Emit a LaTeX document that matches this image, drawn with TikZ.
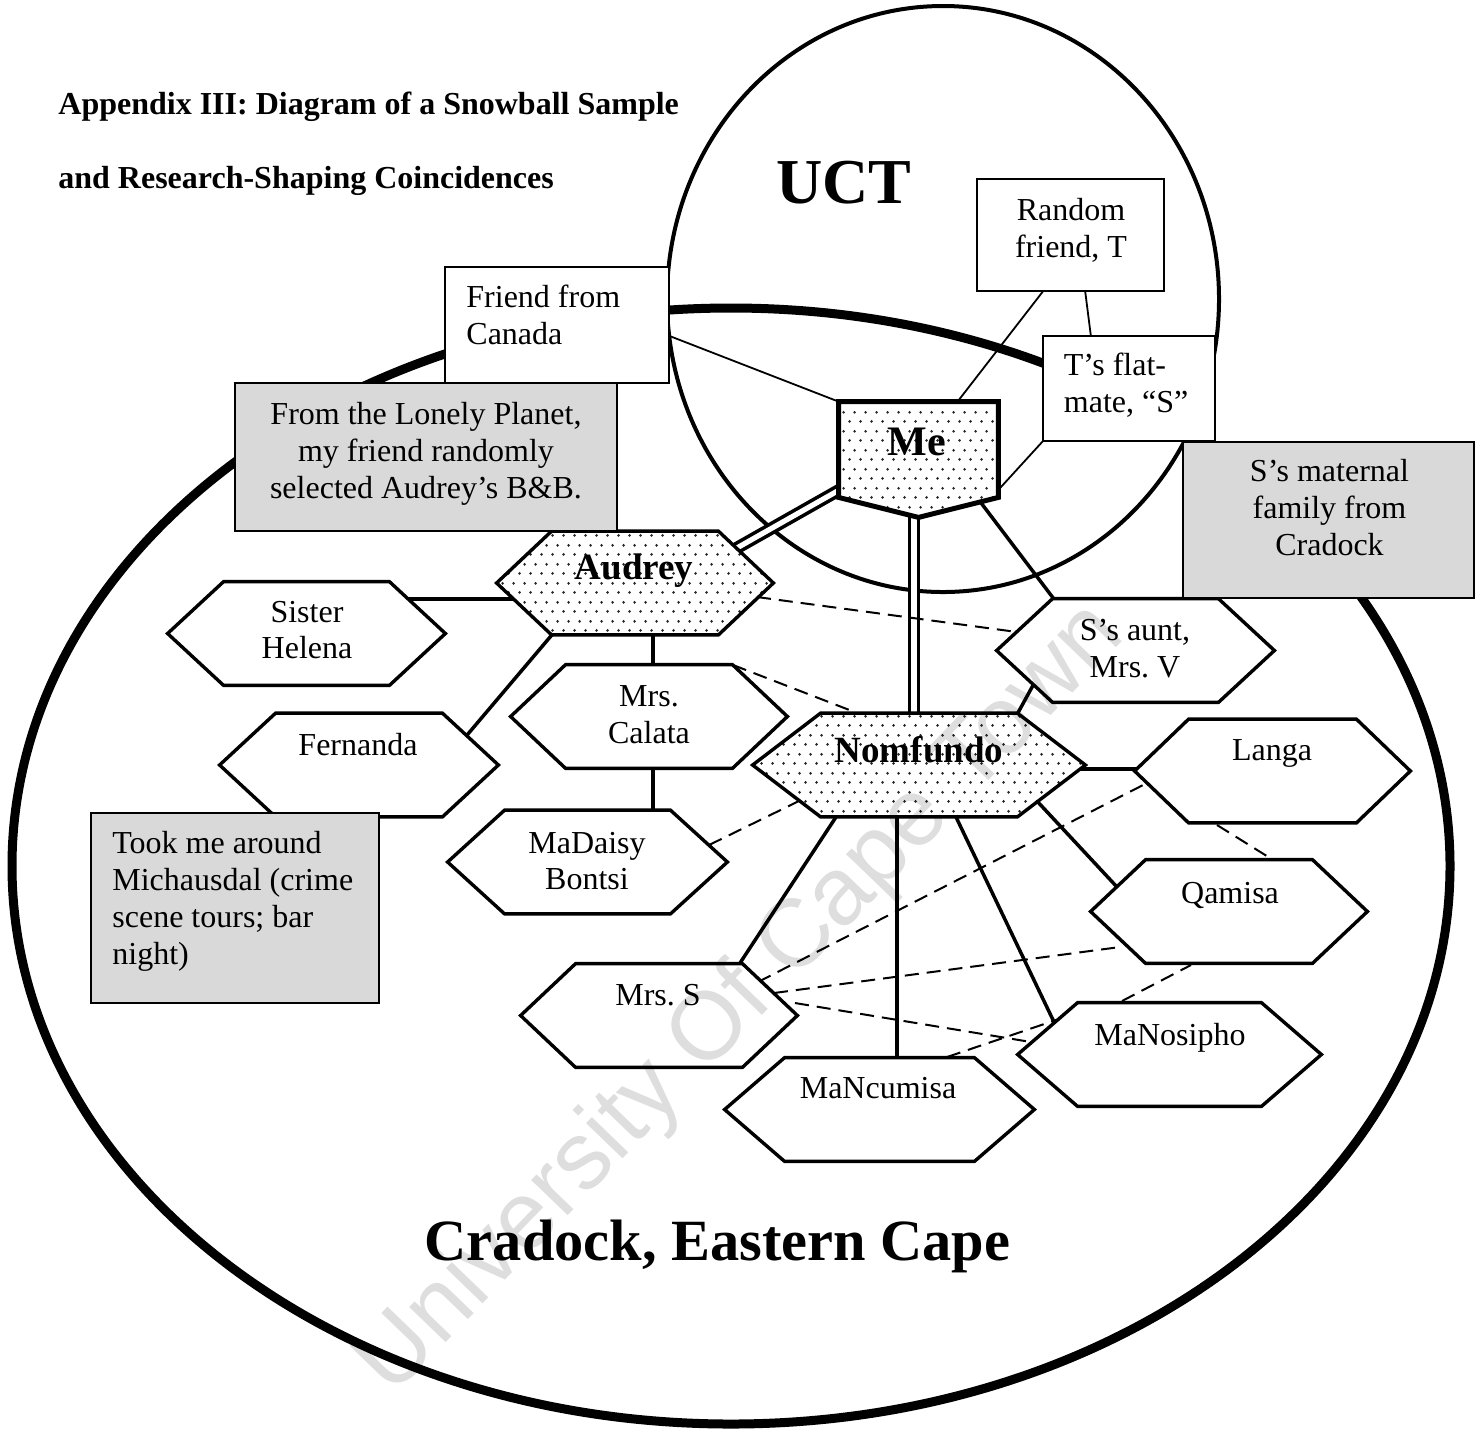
\documentclass[tikz,border=0pt]{standalone}
\usepackage{fontspec}
\setmainfont{Liberation Serif}
\newfontfamily\wmfont{Liberation Sans}
\usetikzlibrary{patterns.meta,calc}
\pgfdeclarelayer{bg}
\pgfdeclarelayer{edges}
\pgfdeclarelayer{shapes}
\pgfsetlayers{bg,edges,shapes,main}
\definecolor{boxgray}{gray}{0.85}
\frenchspacing

\tikzdeclarepattern{
  name=mydots,
  type=uncolored,
  bounding box={(0pt,0pt) and (5.5pt,9.5pt)},
  tile size={(5.5pt,9.5pt)},
  code={
    \pgfpathcircle{\pgfqpoint{1.375pt}{2.375pt}}{0.78pt}
    \pgfpathcircle{\pgfqpoint{4.125pt}{7.125pt}}{0.78pt}
    \pgfusepath{fill}
  }
}

% name, x, y, width, slant, extra style
\newcommand\HexNode[6]{%
  \node[hexarea,minimum width=#4] (#1) at (#2,#3) {};
  \begin{pgfonlayer}{shapes}
    \draw[hexline,#6] (#1.west) -- ([xshift=#5]#1.north west) -- ([xshift=-#5]#1.north east)
      -- (#1.east) -- ([xshift=-#5]#1.south east) -- ([xshift=#5]#1.south west) -- cycle;
  \end{pgfonlayer}}

\begin{document}
\begin{tikzpicture}[x=0.5pt,y=-0.5pt,
  hexarea/.style={rectangle,inner sep=0pt,minimum height=51.5pt},
  hexline/.style={draw=black,line width=1.7pt,fill=white},
  dotfill/.style={preaction={fill=white},pattern=mydots,pattern color=black!85},
  boxw/.style={rectangle,draw=black,line width=1pt,fill=white,inner sep=0pt},
  boxg/.style={boxw,fill=boxgray},
  txt/.style={font=\fontsize{16pt}{18.4pt}\selectfont,align=center,inner sep=0pt},
  txtl/.style={txt,align=left,anchor=west},
  btxt/.style={inner sep=0pt,anchor=base,font=\bfseries\fontsize{#1}{#1}\selectfont},
  conn/.style={line width=1.75pt},
  thinconn/.style={line width=0.9pt},
  dconn/.style={line width=1pt,dash pattern=on 7pt off 4pt},
  dbl/.style={double,line width=1.8pt,double distance=2.6pt}
]
\useasboundingbox (0,0) rectangle (1475,1432);

% regions
\begin{pgfonlayer}{bg}
  \fill[white] (0,0) rectangle (1475,1432);
  \draw[line width=4.5pt] (731,866) ellipse [x radius=719, y radius=558];
  \draw[line width=2pt] (943,299) ellipse [x radius=276, y radius=293];
\end{pgfonlayer}

% hexagons
\HexNode{aud}{635}{583}{138pt}{27.5pt}{dotfill}
\HexNode{sis}{306.5}{633.5}{138.5pt}{28pt}{}
\HexNode{fer}{359}{765}{139pt}{28pt}{}
\HexNode{cal}{649}{716.5}{138pt}{27.5pt}{}
\HexNode{dai}{587.5}{862}{139.5pt}{28.5pt}{}
\HexNode{nom}{919}{765}{166pt}{34pt}{dotfill}
\HexNode{aunt}{1135.5}{650.5}{138.5pt}{28pt}{}
\HexNode{lan}{1272.5}{771}{137.5pt}{27pt}{}
\HexNode{qam}{1229}{911.5}{138pt}{27.5pt}{}
\HexNode{mrss}{659}{1015.5}{138pt}{27.5pt}{}
\HexNode{ncu}{879.5}{1109.5}{154.5pt}{30pt}{}
\HexNode{nos}{1169.5}{1054.5}{151.5pt}{30pt}{}

% Me
\node[rectangle,inner sep=0pt,minimum width=79.5pt,minimum height=57.5pt] (me) at (918.5,459.5) {};
\begin{pgfonlayer}{shapes}
  \draw[line width=2.5pt,dotfill] (me.north west) -- (me.north east) -- ([yshift=10pt]me.south east)
    -- (me.south) -- ([yshift=10pt]me.south west) -- cycle;
\end{pgfonlayer}

% boxes
\begin{pgfonlayer}{shapes}
  \node[boxw,minimum width=112pt,minimum height=58pt] (fcan) at (557,325) {};
  \node[boxg,minimum width=191pt,minimum height=74pt] (lonely) at (426,457) {};
  \node[boxw,minimum width=93.5pt,minimum height=56pt] (rand) at (1070.5,235) {};
  \node[boxw,minimum width=86pt,minimum height=52.5pt] (flat) at (1129,388.5) {};
  \node[boxg,minimum width=145.5pt,minimum height=78pt] (smat) at (1328.5,519.5) {};
  \node[boxg,minimum width=144pt,minimum height=95pt] (took) at (235,908) {};
\end{pgfonlayer}

% texts
\node[btxt=16pt,anchor=base west] (title1) at (58,114) {Appendix III: Diagram of a Snowball Sample};
\node[btxt=16pt,anchor=base west] (title2) at (58,188) {and Research-Shaping Coincidences};
\node[btxt=32pt] (uct) at (844,203) {UCT};
\node[btxt=29.2pt] (cradock) at (717.5,1260) {Cradock, Eastern Cape};
\node[btxt=21pt] (meT) at (917,455) {Me};
\node[btxt=18.5pt] (audT) at (634,579) {Audrey};
\node[btxt=18.5pt] (nomT) at (919,762) {Nomfundo};

\node[txt] (sisT) at (307,630) {Sister\\Helena};
\node[txt] (ferT) at (358,745) {Fernanda};
\node[txt] (calT) at (649,714.5) {Mrs.\\Calata};
\node[txt] (daiT) at (587,861) {MaDaisy\\Bontsi};
\node[txt] (auntT) at (1135,648.5) {S’s aunt,\\Mrs. V};
\node[txt] (lanT) at (1272,753.5) {Langa};
\node[txt] (qamT) at (1230,895) {Qamisa};
\node[txt] (mrssT) at (658,995) {Mrs. S};
\node[txt] (ncuT) at (878,1088) {MaNcumisa};
\node[txt] (nosT) at (1170,1037.5) {MaNosipho};
\node[txtl] (fcanT) at (466,315) {Friend from\\Canada};
\node[txt] (lonT) at (426,454) {From the Lonely Planet,\\my friend randomly\\selected Audrey’s B\&B.};
\node[txt] (randT) at (1071,230.5) {Random\\friend, T};
\node[txtl] (flatT) at (1063.5,385) {T’s flat-\\mate, “S”};
\node[txt] (smatT) at (1329.5,507.5) {S’s maternal\\family from\\Cradock};
\node[txtl] (tookT) at (112,901.5) {Took me around\\Michausdal (crime\\scene tours; bar\\night)};

% connectors
\begin{pgfonlayer}{edges}
  \draw[thinconn] ($(fcan.center)+(110,10)$) -- (me.north west);
  \draw[thinconn] ($(rand.south)+(-26.5,-2)$) -- ($(me.north)+(37.5,2)$);
  \draw[thinconn] ($(rand.south)+(14.5,-2)$) -- ($(flat.north)+(-38,2)$);
  \draw[thinconn] ($(flat.south west)+(1,-1)$) -- ($(me.east)+(-2,32.5)$);

  \draw[dbl] ($(me.south west)+(7,-31)$) -- ($(aud.center)+(93,-30)$);
  \draw[dbl] ($(me.south)+(-4.5,-12)$) -- ($(nom.north)+(-5,7)$);

  \draw[conn] ($(me.center)+(61.5,42)$) -- ($(aunt.north west)+(57,0)$);
  \draw[conn] ($(sis.center)+(95,-34.5)$) -- ($(aud.center)+(-115,16)$);
  \draw[conn] ($(aud.center)+(-79,47)$) -- ($(fer.center)+(103,-24)$);
  \draw[conn] ($(aud.center)+(18,40)$) -- ($(cal.center)+(4,-40)$);
  \draw[conn] ($(cal.center)+(4,40)$) -- ($(dai.center)+(65.5,-40)$);
  \draw[conn] ($(nom.center)+(95,-45)$) -- ($(aunt.center)+(-98.5,27.5)$);
  \draw[conn] ($(nom.center)+(156,4)$) -- ($(lan.center)+(-130.5,-2)$);
  \draw[conn] ($(nom.center)+(117,35)$) -- ($(qam.center)+(-112,-24.5)$);
  \draw[conn] ($(nom.center)+(-83,52)$) -- ($(mrss.center)+(81,-52.5)$);
  \draw[conn] ($(nom.center)+(-22,45)$) -- ($(ncu.center)+(17.5,-45)$);
  \draw[conn] ($(nom.center)+(37,52)$) -- ($(nos.center)+(-115.5,-32.5)$);

  \draw[dconn] ($(aud.center)+(122,14)$) -- ($(aunt.center)+(-118.5,-18.5)$);
  \draw[dconn] ($(cal.center)+(84,-51.5)$) -- ($(nom.center)+(-67,-54)$);
  \draw[dconn] ($(dai.center)+(121.5,-17)$) -- ($(nom.center)+(-118,35)$);
  \draw[dconn] ($(mrss.center)+(99,-33.5)$) -- ($(lan.center)+(-125.5,12)$);
  \draw[dconn] ($(mrss.center)+(115,-22.5)$) -- ($(qam.center)+(-109,35.5)$);
  \draw[dconn] ($(mrss.center)+(136,-12.5)$) -- ($(nos.center)+(-138.5,-12.5)$);
  \draw[dconn] ($(ncu.center)+(67.5,-52.5)$) -- ($(nos.center)+(-113.5,-34.5)$);
  \draw[dconn] ($(nos.center)+(-47.5,-53.5)$) -- ($(qam.center)+(-38,53.5)$);
  \draw[dconn] ($(lan.center)+(-55.5,54)$) -- ($(qam.center)+(41,-53.5)$);
\end{pgfonlayer}

% watermark
\node[rotate=46,font=\wmfont\fontsize{48pt}{48pt}\selectfont,text opacity=0.13,inner sep=0pt] (wm) at (742,1000) {University Of Cape Town};
\end{tikzpicture}
\end{document}
